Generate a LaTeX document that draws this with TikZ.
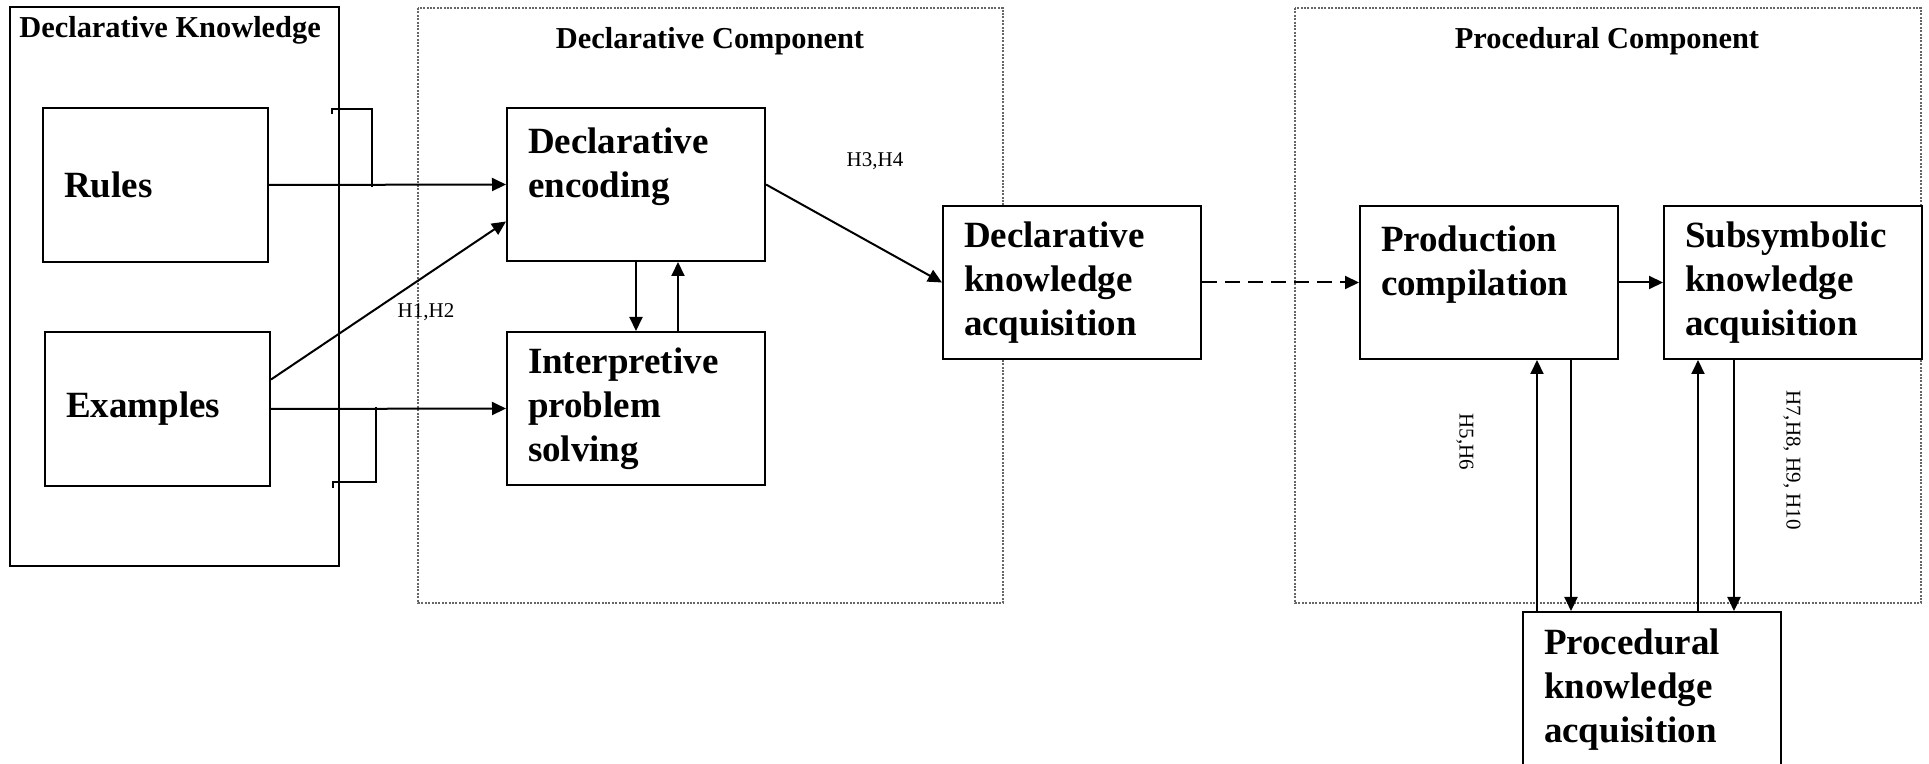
\documentclass[tikz,border=0pt]{standalone}
\usepackage{fontspec}
\setmainfont{Liberation Serif}
\usetikzlibrary{arrows.meta}

\begin{document}
\begin{tikzpicture}[x=0.5pt,y=-0.5pt,
	box/.style={draw, line width=1pt, fill=white, align=left, inner xsep=10.5pt, inner ysep=0pt,
		font=\fontsize{18.5}{22}\selectfont\bfseries},
	wide/.style={box, text width=108pt, minimum height=76.5pt},
	small/.style={box, text width=91.5pt, minimum height=77pt},
	comp/.style={draw=black!60, line width=0.6pt, dash pattern=on 1pt off 0.7pt},
	title/.style={font=\fontsize{15.2}{18}\selectfont\bfseries, inner sep=0pt},
	hyp/.style={font=\fontsize{10.5}{12}\selectfont, inner sep=0pt},
	arr/.style={line width=1pt, -{Triangle[length=7pt,width=6.5pt]}}]
	\useasboundingbox (0,0) rectangle (1929,764);
	%frames
	\draw[line width=1pt] (10,7) rectangle (339,566);
	\draw[comp] (418,8) rectangle (1003,603);
	\draw[comp] (1295,8) rectangle (1921,603);
	\node[title, anchor=west] (dkt) at (19,30) {Declarative Knowledge};
	\node[title] (dct) at (710,41) {Declarative Component};
	\node[title] (pct) at (1607,41) {Procedural Component};
	%brackets
	\draw[line width=1pt] (332,114) -- (332,109) -- (372,109) -- (372,187);
	\draw[line width=1pt] (376,407) -- (376,482) -- (333,482) -- (333,488);
	%boxes
	\node[small, anchor=north west] (rules) at (42,107) {Rules};
	\node[small, anchor=north west] (examples) at (44,331) {Examples};
	\node[wide, anchor=north west] (enc) at (506,107) {Declarative\\encoding\\\mbox{}};
	\node[wide, anchor=north west] (interp) at (506,331) {Interpretive\\problem\\solving};
	\node[wide, anchor=north west] (dka) at (942,205) {Declarative\\knowledge\\acquisition};
	\node[wide, anchor=north west] (prod) at (1359,205) {Production\\compilation\\\mbox{}};
	\node[wide, anchor=north west] (sub) at (1663,205) {Subsymbolic\\knowledge\\acquisition};
	\node[wide, anchor=north west, minimum height=78pt] (pka) at (1522,611) {Procedural\\knowledge\\acquisition};
	%hypotheses
	\node[hyp] (h12) at (426,312) {H1,H2};
	\node[hyp] (h34) at (875,161) {H3,H4};
	\node[hyp, rotate=-90] (h56) at (1465,442) {H5,H6};
	\node[hyp, rotate=-90] (h710) at (1792,460) {H7,H8, H9, H10};
	%arrows
	\draw[arr] (rules.east) -- (enc.west);
	\draw[arr] ([yshift=14.75pt]examples.east) -- ([yshift=-18.5pt]enc.west);
	\draw[arr] (examples.east) -- (interp.west);
	\draw[arr] (enc.east) -- (dka.west);
	\draw[arr, dash pattern=on 7.5pt off 4pt] (dka.east) -- (prod.west);
	\draw[arr] (prod.east) -- (sub.west);
	\coordinate (dn) at (636,0);
	\coordinate (up) at (678,0);
	\draw[arr] (enc.south -| dn) -- (interp.north -| dn);
	\draw[arr] (interp.north -| up) -- (enc.south -| up);
	\coordinate (u1) at (1537,0);
	\coordinate (d1) at (1571,0);
	\coordinate (u2) at (1698,0);
	\coordinate (d2) at (1734,0);
	\draw[arr] (pka.north -| u1) -- (prod.south -| u1);
	\draw[arr] (prod.south -| d1) -- (pka.north -| d1);
	\draw[arr] (pka.north -| u2) -- (sub.south -| u2);
	\draw[arr] (sub.south -| d2) -- (pka.north -| d2);
\end{tikzpicture}
\end{document}
